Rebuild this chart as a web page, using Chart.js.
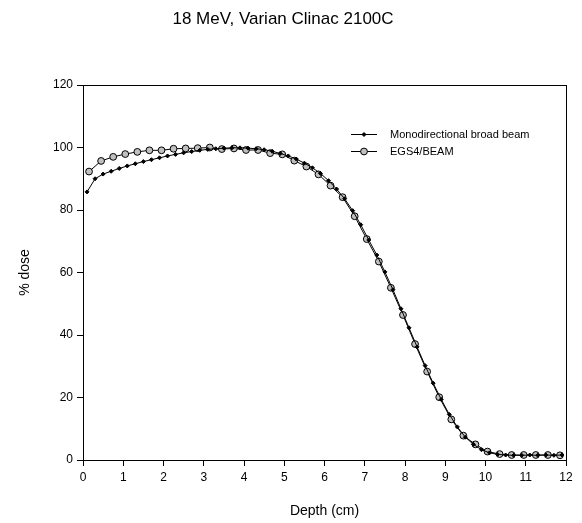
<!DOCTYPE html>
<html>
<head>
<meta charset="utf-8">
<script src="https://cdn.jsdelivr.net/npm/chart.js@4.4.1/dist/chart.umd.min.js"></script>
<style>
  html, body { margin: 0; padding: 0; background: #fff; }
  #wrap { width: 582px; height: 523px; }
</style>
</head>
<body>
<div id="wrap"><canvas id="myChart" width="582" height="523"></canvas></div>
<script>
// Monodirectional broad beam
var depthMono = [0.1, 0.3, 0.5, 0.7, 0.9, 1.1, 1.3, 1.5, 1.7, 1.9,
                 2.1, 2.3, 2.5, 2.7, 2.9, 3.1, 3.3, 3.5, 3.7, 3.9,
                 4.1, 4.3, 4.5, 4.7, 4.9, 5.1, 5.3, 5.5, 5.7, 5.9,
                 6.1, 6.3, 6.5, 6.7, 6.9, 7.1, 7.3, 7.5, 7.7, 7.9,
                 8.1, 8.3, 8.5, 8.7, 8.9, 9.1, 9.3, 9.5, 9.7, 9.9,
                 10.1, 10.3, 10.5, 10.7, 10.9, 11.1, 11.3, 11.5, 11.7, 11.9];
var doseMono = [85.8, 90.0, 91.5, 92.4, 93.3, 94.1, 94.8, 95.5, 96.1, 96.7,
                97.3, 97.8, 98.3, 98.7, 99.1, 99.4, 99.6, 99.8, 99.9, 99.9,
                99.8, 99.6, 99.3, 98.8, 98.1, 97.3, 96.3, 95.0, 93.5, 91.7,
                89.4, 86.7, 83.6, 79.8, 75.3, 70.4, 65.6, 60.2, 54.5, 48.4,
                42.3, 36.2, 30.2, 24.6, 19.4, 14.6, 10.6, 7.3, 5.0, 3.3,
                2.3, 1.8, 1.6, 1.5, 1.5, 1.6, 1.5, 1.6, 1.5, 1.6];

// EGS4/BEAM
var depthEgs = [0.15, 0.45, 0.75, 1.05, 1.35, 1.65, 1.95, 2.25, 2.55, 2.85,
                3.15, 3.45, 3.75, 4.05, 4.35, 4.65, 4.95, 5.25, 5.55, 5.85,
                6.15, 6.45, 6.75, 7.05, 7.35, 7.65, 7.95, 8.25, 8.55, 8.85,
                9.15, 9.45, 9.75, 10.05, 10.35, 10.65, 10.95, 11.25, 11.55, 11.85];
var doseEgs = [92.3, 95.7, 97.0, 97.9, 98.6, 99.1, 99.1, 99.6, 99.7, 99.8,
               100.0, 99.5, 99.7, 99.2, 99.2, 98.2, 97.8, 95.8, 93.9, 91.4,
               87.8, 84.1, 78.0, 70.7, 63.5, 55.1, 46.4, 37.1, 28.3, 20.1,
               13.0, 7.8, 5.0, 2.7, 1.9, 1.6, 1.6, 1.6, 1.6, 1.5];

var seriesNames = ['Monodirectional broad beam', 'EGS4/BEAM'];
var chartTitle = '18 MeV, Varian Clinac 2100C';
var xTitle = 'Depth (cm)';
var yTitle = '% dose';

var FONT = 'Arial, "Liberation Sans", sans-serif';

function toPoints(xs, ys) {
    return xs.map(function (x, i) { return {x: x, y: ys[i]}; });
}

// box round the plot area
var framePlugin = {
    id: 'frame',
    afterDraw: function (chart) {
        var a = chart.chartArea, ctx = chart.ctx;
        ctx.save();
        ctx.strokeStyle = '#000';
        ctx.lineWidth = 1;
        ctx.strokeRect(Math.round(a.left) + 0.5, Math.round(a.top) + 0.5,
                       Math.round(a.right - a.left), Math.round(a.bottom - a.top));
        ctx.restore();
    }
};

// legend inside the plot, line + marker like the original
var insideLegend = {
    id: 'insideLegend',
    afterDraw: function (chart) {
        var ctx = chart.ctx;
        var x0 = 351, x1 = 377, tx = 390;
        var rows = [134, 151];
        ctx.save();
        chart.data.datasets.forEach(function (ds, i) {
            var y = rows[i] + 0.5;
            ctx.strokeStyle = '#000';
            ctx.lineWidth = 1;
            ctx.beginPath();
            ctx.moveTo(x0, y);
            ctx.lineTo(x1, y);
            ctx.stroke();
            ctx.fillStyle = ds.pointBackgroundColor;
            ctx.strokeStyle = ds.pointBorderColor;
            ctx.lineWidth = ds.pointBorderWidth;
            Chart.helpers.drawPoint(ctx, {
                pointStyle: ds.pointStyle,
                radius: ds.pointRadius,
                borderWidth: ds.pointBorderWidth
            }, (x0 + x1) / 2, y);
            ctx.fillStyle = '#000';
            ctx.font = '11px ' + FONT;
            ctx.textBaseline = 'middle';
            ctx.textAlign = 'left';
            ctx.fillText(ds.label, tx, y + 0.5);
        });
        ctx.restore();
    }
};

var ctx = document.getElementById('myChart').getContext('2d');
var chart = new Chart(ctx, {
    type: 'line',
    data: {
        datasets: [{
            label: seriesNames[0],
            data: toPoints(depthMono, doseMono),
            borderColor: '#000',
            borderWidth: 1,
            backgroundColor: '#000',
            pointStyle: 'rectRot',
            pointRadius: 2,
            pointBorderWidth: 1,
            pointBackgroundColor: '#000',
            pointBorderColor: '#000',
            tension: 0
        }, {
            label: seriesNames[1],
            data: toPoints(depthEgs, doseEgs),
            borderColor: '#000',
            borderWidth: 1,
            backgroundColor: '#c0c0c0',
            pointStyle: 'circle',
            pointRadius: 3.4,
            pointBorderWidth: 1,
            pointBackgroundColor: '#c0c0c0',
            pointBorderColor: '#000',
            tension: 0
        }]
    },
    options: {
        responsive: false,
        animation: false,
        events: [],
        layout: { padding: { left: 0, right: 16, top: 0, bottom: 0 } },
        plugins: {
            legend: { display: false },
            tooltip: { enabled: false },
            title: {
                display: true,
                text: chartTitle,
                color: '#000',
                font: { family: FONT, size: 17, weight: 'normal' },
                padding: { top: 9, bottom: 55.6 }
            }
        },
        scales: {
            x: {
                type: 'linear',
                min: 0,
                max: 12,
                ticks: { stepSize: 1, color: '#000', padding: 4, maxRotation: 0,
                         font: { family: FONT, size: 12 } },
                grid: { drawOnChartArea: false, drawTicks: true, tickLength: 6,
                        color: '#000', tickColor: '#000' },
                border: { color: '#000', width: 1 },
                title: { display: true, text: xTitle, color: '#000',
                         font: { family: FONT, size: 14 }, padding: { top: 0, bottom: 3.6 } },
                afterFit: function (scale) { scale.height = 63; }
            },
            y: {
                min: 0,
                max: 120,
                ticks: { stepSize: 20, color: '#000', padding: 4,
                         font: { family: FONT, size: 12 } },
                grid: { drawOnChartArea: false, drawTicks: true, tickLength: 6,
                        color: '#000', tickColor: '#000' },
                border: { color: '#000', width: 1 },
                title: { display: true, text: yTitle, color: '#000',
                         font: { family: FONT, size: 14 }, padding: { top: 16.6, bottom: 0 } },
                afterFit: function (scale) { scale.width = 83; }
            }
        }
    },
    plugins: [framePlugin, insideLegend]
});
</script>
</body>
</html>
